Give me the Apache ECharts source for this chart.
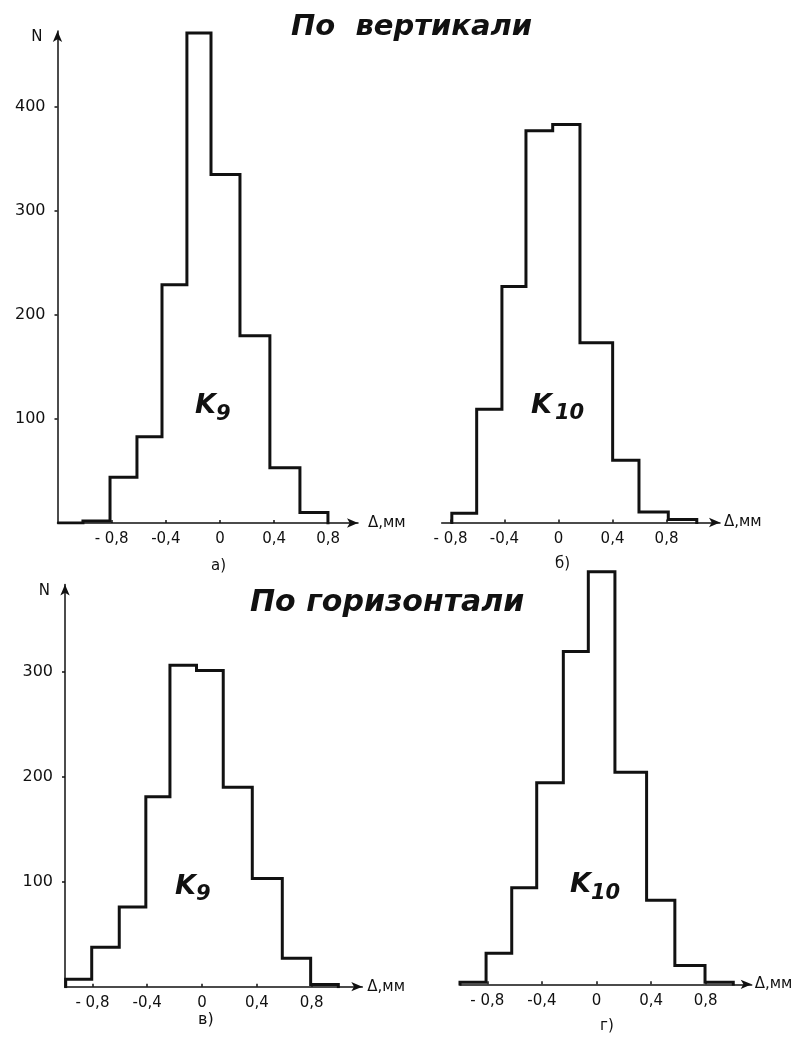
<!DOCTYPE html>
<html>
<head>
<meta charset="utf-8">
<script src="https://cdn.jsdelivr.net/npm/echarts@6/dist/echarts.min.js"></script>
<style>
html,body{margin:0;padding:0;background:#fff;}
#chart{width:796px;height:1037px;}
</style>
</head>
<body>
<div id="chart"></div>
<script>
// ---- data ----
const titleTop = 'По  вертикали';
const titleBottom = 'По горизонтали';
const panelLetters = ['а)', 'б)', 'в)', 'г)'];
const seriesNames = ['K9', 'K10', 'K9', 'K10'];
const xTicks = [-0.8, -0.4, 0, 0.4, 0.8];
const xTickLabels = ['- 0,8', '-0,4', '0', '0,4', '0,8'];
const yTicksTop = [100, 200, 300, 400];
const yTicksBottom = [100, 200, 300];
const xName = 'Δ,мм';
const yName = 'N';

// a) vertical, K9
const edgesA = [-1.19, -1.012, -0.812, -0.613, -0.428, -0.244, -0.066, 0.148, 0.369, 0.591, 0.798];
const countsA = [0, 2, 44, 83, 229, 471, 335, 180, 53, 10];
// б) vertical, K10
const edgesB = [-0.79, -0.606, -0.419, -0.241, -0.043, 0.159, 0.401, 0.596, 0.813, 1.024];
const countsB = [9, 109, 227, 377, 383, 173, 60, 10, 3];
// в) horizontal, K9
const edgesC = [-0.995, -0.805, -0.604, -0.41, -0.234, -0.04, 0.155, 0.367, 0.586, 0.793, 0.995];
const countsC = [7, 37.5, 76, 181, 306, 301, 190, 103, 27, 2];
// г) horizontal, K10
const edgesD = [-1.0, -0.809, -0.621, -0.438, -0.243, -0.06, 0.135, 0.367, 0.574, 0.795, 1.002];
const countsD = [2, 29.5, 92, 192, 317, 393, 202, 80, 18, 2];

// ---- chart ----
const INK = '#111';
const FONT = "'DejaVu Sans', sans-serif";
const HAND = "'DejaVu Sans', sans-serif";

function outline(edges, counts) {
  const pts = [[edges[0], 0]];
  for (let i = 0; i < counts.length; i++) pts.push([edges[i], counts[i]]);
  pts.push([edges[edges.length - 1], 0]);
  return pts;
}
function xLabel(v) {
  const i = xTicks.findIndex(t => Math.abs(t - v) < 1e-6);
  return i >= 0 ? xTickLabels[i] : '';
}

const grids = [
  {left: 57.5, top: 31, width: 300.5, height: 492},
  {left: 441.7, top: 31, width: 278.3, height: 491.5},
  {left: 65, top: 584.5, width: 297.3, height: 402.2},
  {left: 460, top: 564.3, width: 291.7, height: 420}
];
const xRanges = [[-1.2, 1.02], [-0.865, 1.196], [-1.0, 1.17], [-1.0, 1.137]];
const yMax = [473, 473, 383, 400];
const nameGaps = [10, 4, 5, 3];
const showY = [true, false, true, false];
const yTickSets = [yTicksTop, null, yTicksBottom, null];
const hist = [[edgesA, countsA], [edgesB, countsB], [edgesC, countsC], [edgesD, countsD]];

const axisLineStyle = {color: INK, width: 1.5};
const kFont = 'italic bold 27px ' + HAND;
const subFont = 'italic bold 21px ' + HAND;

const option = {
  backgroundColor: '#fff',
  animation: false,
  title: [
    {text: titleTop, left: 286, top: 8, textStyle: {fontFamily: HAND, fontSize: 29, fontWeight: 'bold', fontStyle: 'italic', color: INK}},
    {text: titleBottom, left: 245, top: 583, textStyle: {fontFamily: HAND, fontSize: 30, fontWeight: 'bold', fontStyle: 'italic', color: INK}}
  ],
  grid: grids,
  xAxis: grids.map((g, i) => ({
    type: 'value', gridIndex: i, min: xRanges[i][0], max: xRanges[i][1],
    axisLine: {show: true, symbol: ['none', 'arrow'], symbolSize: [7, 11], lineStyle: axisLineStyle},
    axisTick: {show: true, inside: true, length: 3, customValues: xTicks, lineStyle: axisLineStyle},
    axisLabel: {customValues: xTicks, formatter: xLabel, fontFamily: FONT, fontSize: 15, color: INK, margin: 9},
    splitLine: {show: false},
    name: xName, nameLocation: 'end', nameGap: nameGaps[i],
    nameTextStyle: {fontFamily: FONT, fontSize: 15, color: INK, verticalAlign: 'middle'}
  })),
  yAxis: grids.map((g, i) => ({
    type: 'value', gridIndex: i, min: 0, max: yMax[i], show: showY[i],
    axisLine: {show: true, onZero: false, symbol: ['none', 'arrow'], symbolSize: [7, 11], lineStyle: axisLineStyle},
    axisTick: {show: true, length: 3, customValues: yTickSets[i] || [], lineStyle: axisLineStyle},
    axisLabel: {customValues: yTickSets[i] || [], fontFamily: FONT, fontSize: 16, color: INK, margin: 12},
    splitLine: {show: false},
    name: yName, nameLocation: 'end', nameGap: -14,
    nameTextStyle: {fontFamily: FONT, fontSize: 15, color: INK, align: 'right', padding: [0, 15, 0, 0]}
  })),
  series: hist.map((h, i) => ({
    name: seriesNames[i], type: 'line', xAxisIndex: i, yAxisIndex: i,
    step: 'end', symbol: 'none', data: outline(h[0], h[1]),
    lineStyle: {color: INK, width: 3, cap: 'square', join: 'miter'}
  })),
  graphic: [
    {type: 'text', x: 211, y: 566, style: {text: panelLetters[0], font: '15px ' + FONT, fill: INK, align: 'left', verticalAlign: 'middle'}},
    {type: 'text', x: 555, y: 564, style: {text: panelLetters[1], font: '15px ' + FONT, fill: INK, align: 'left', verticalAlign: 'middle'}},
    {type: 'text', x: 198, y: 1020, style: {text: panelLetters[2], font: '16px ' + FONT, fill: INK, align: 'left', verticalAlign: 'middle'}},
    {type: 'text', x: 600, y: 1026, style: {text: panelLetters[3], font: '15px ' + FONT, fill: INK, align: 'left', verticalAlign: 'middle'}},
    // K labels
    {type: 'text', x: 195, y: 406, style: {text: 'K', font: kFont, fill: INK, align: 'left', verticalAlign: 'middle'}},
    {type: 'text', x: 216, y: 415, style: {text: '9', font: subFont, fill: INK, align: 'left', verticalAlign: 'middle'}},
    {type: 'text', x: 531, y: 406, style: {text: 'K', font: kFont, fill: INK, align: 'left', verticalAlign: 'middle'}},
    {type: 'text', x: 555, y: 414, style: {text: '10', font: subFont, fill: INK, align: 'left', verticalAlign: 'middle'}},
    {type: 'text', x: 175, y: 887, style: {text: 'K', font: kFont, fill: INK, align: 'left', verticalAlign: 'middle'}},
    {type: 'text', x: 196, y: 895, style: {text: '9', font: subFont, fill: INK, align: 'left', verticalAlign: 'middle'}},
    {type: 'text', x: 570, y: 885, style: {text: 'K', font: kFont, fill: INK, align: 'left', verticalAlign: 'middle'}},
    {type: 'text', x: 591, y: 894, style: {text: '10', font: subFont, fill: INK, align: 'left', verticalAlign: 'middle'}}
  ]
};

const chart = echarts.init(document.getElementById('chart'), null, {renderer: 'canvas'});
chart.setOption(option);
</script>
</body>
</html>
